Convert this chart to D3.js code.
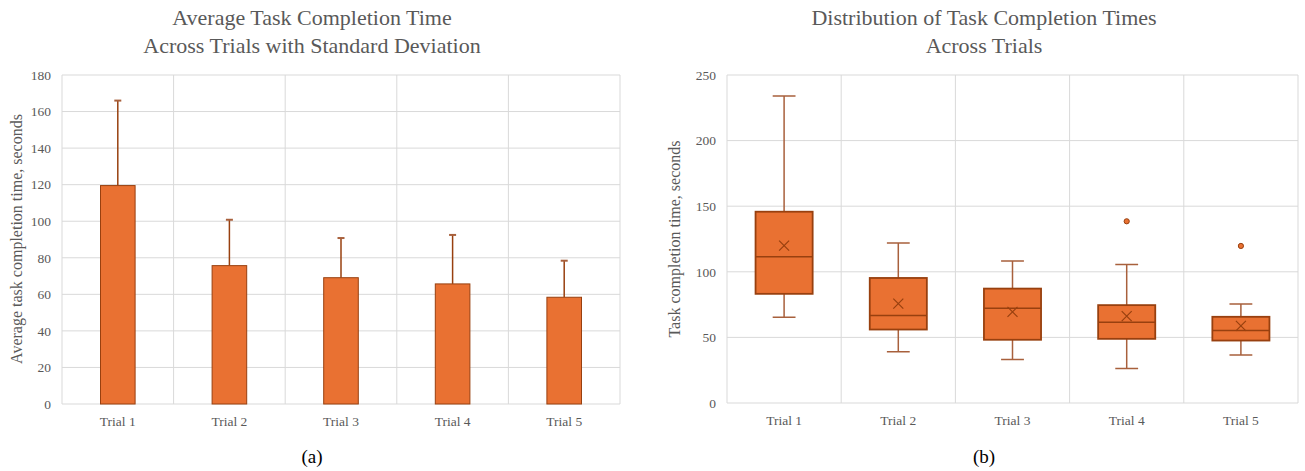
<!DOCTYPE html>
<html>
<head>
<meta charset="utf-8">
<script src="https://cdn.jsdelivr.net/npm/d3@7"></script>
<style>
  body { margin: 0; background: #fff; }
  text { font-family: "Liberation Serif", "Times New Roman", serif; }
</style>
</head>
<body>
<div id="chart"></div>
<script>
const trials = ['Trial 1', 'Trial 2', 'Trial 3', 'Trial 4', 'Trial 5'];

// panel (a): mean and standard deviation
const means = [119.5, 75.7, 69.1, 65.7, 58.4];
const sds = [46.5, 25.1, 21.7, 26.8, 20.0];
const barTicks = [0, 20, 40, 60, 80, 100, 120, 140, 160, 180];

// panel (b): box plot stats
const whiskerLow = [65.4, 39.0, 33.2, 26.3, 36.5];
const q1 = [83.2, 56.0, 48.2, 48.9, 47.6];
const medians = [111.5, 66.7, 72.3, 61.6, 55.3];
const q3 = [145.8, 95.3, 87.2, 74.6, 65.7];
const whiskerHigh = [234.0, 122.0, 108.3, 105.5, 75.5];
const boxMeans = [119.9, 75.8, 69.5, 66.2, 58.8];
const outliers = [[], [], [], [138.5], [119.7]];
const boxTicks = [0, 50, 100, 150, 200, 250];

const W = 1305, H = 471;
const fill = '#e97132', edge = '#98400f', whiskerCol = '#a8603c';
const grid = '#d9d9d9', txt = '#595959';

const svg = d3.select('#chart')
  .append('svg')
  .attr('width', W)
  .attr('height', H);

function frame(left, right, top, bottom, maxV, ticks) {
  const x = d3.scaleBand().domain(trials).range([left, right]).padding(0);
  const y = d3.scaleLinear().domain([0, maxV]).range([bottom, top]);
  const g = svg.append('g');

  // horizontal grid
  g.selectAll('.hg')
    .data(ticks)
    .enter()
    .append('line')
    .attr('x1', left).attr('x2', right)
    .attr('y1', d => y(d)).attr('y2', d => y(d))
    .attr('stroke', grid).attr('stroke-width', 1);
  // vertical grid on category edges
  const edges = trials.map(t => x(t)).concat([right]);
  g.selectAll('.vg')
    .data(edges)
    .enter()
    .append('line')
    .attr('x1', d => d).attr('x2', d => d)
    .attr('y1', top).attr('y2', bottom)
    .attr('stroke', grid).attr('stroke-width', 1);

  // y tick labels
  g.selectAll('.yt')
    .data(ticks)
    .enter()
    .append('text')
    .attr('x', left - 11)
    .attr('y', d => y(d))
    .attr('dy', '0.35em')
    .attr('text-anchor', 'end')
    .attr('fill', txt)
    .style('font-size', '13.5px')
    .text(d => d);

  // x tick labels
  g.selectAll('.xt')
    .data(trials)
    .enter()
    .append('text')
    .attr('x', d => x(d) + x.bandwidth() / 2)
    .attr('y', bottom + 22)
    .attr('text-anchor', 'middle')
    .attr('fill', txt)
    .style('font-size', '13.5px')
    .text(d => d);

  return { x, y, g };
}

function titles(cx, lines, yLabel, yLabelX, midY, caption) {
  lines.forEach((l, i) => {
    svg.append('text')
      .attr('x', cx)
      .attr('y', 25 + i * 28)
      .attr('text-anchor', 'middle')
      .attr('fill', txt)
      .style('font-size', '22px')
      .text(l);
  });
  svg.append('text')
    .attr('transform', `translate(${yLabelX}, ${midY}) rotate(-90)`)
    .attr('text-anchor', 'middle')
    .attr('fill', txt)
    .style('font-size', '16px')
    .text(yLabel);
  svg.append('text')
    .attr('x', cx)
    .attr('y', 463)
    .attr('text-anchor', 'middle')
    .attr('fill', '#000')
    .style('font-size', '19px')
    .text(caption);
}

// ---- (a) bar chart with SD
const A = frame(62, 620, 75, 404, 180, barTicks);
titles(312, ['Average Task Completion Time', 'Across Trials with Standard Deviation'],
  'Average task completion time, seconds', 22, 239, '(a)');

const barW = A.x.bandwidth() * 0.31;
// error bars
A.g.selectAll('.err')
  .data(trials)
  .enter()
  .append('line')
  .attr('x1', d => A.x(d) + A.x.bandwidth() / 2)
  .attr('x2', d => A.x(d) + A.x.bandwidth() / 2)
  .attr('y1', (d, i) => A.y(means[i]))
  .attr('y2', (d, i) => A.y(means[i] + sds[i]))
  .attr('stroke', edge).attr('stroke-width', 1.5);
A.g.selectAll('.cap')
  .data(trials)
  .enter()
  .append('line')
  .attr('x1', d => A.x(d) + A.x.bandwidth() / 2 - 3.5)
  .attr('x2', d => A.x(d) + A.x.bandwidth() / 2 + 3.5)
  .attr('y1', (d, i) => A.y(means[i] + sds[i]))
  .attr('y2', (d, i) => A.y(means[i] + sds[i]))
  .attr('stroke', whiskerCol).attr('stroke-width', 2);
A.g.selectAll('.bar')
  .data(trials)
  .enter()
  .append('rect')
  .attr('x', d => A.x(d) + (A.x.bandwidth() - barW) / 2)
  .attr('y', (d, i) => A.y(means[i]))
  .attr('width', barW)
  .attr('height', (d, i) => A.y(0) - A.y(means[i]))
  .attr('fill', fill)
  .attr('stroke', edge).attr('stroke-width', 1);

// ---- (b) box plot
const B = frame(727, 1298, 75, 403, 250, boxTicks);
titles(984, ['Distribution of Task Completion Times', 'Across Trials'],
  'Task completion time, seconds', 680, 239, '(b)');

const boxW = B.x.bandwidth() * 0.5;
const capW = boxW * 0.4;
const cx = d => B.x(d) + B.x.bandwidth() / 2;

// whiskers
B.g.selectAll('.wl')
  .data(trials)
  .enter()
  .append('path')
  .attr('d', (d, i) => `M${cx(d)},${B.y(whiskerLow[i])}V${B.y(q1[i])}` +
    `M${cx(d)},${B.y(q3[i])}V${B.y(whiskerHigh[i])}` +
    `M${cx(d) - capW / 2},${B.y(whiskerLow[i])}H${cx(d) + capW / 2}` +
    `M${cx(d) - capW / 2},${B.y(whiskerHigh[i])}H${cx(d) + capW / 2}`)
  .attr('fill', 'none')
  .attr('stroke', whiskerCol).attr('stroke-width', 1.5);
// boxes
B.g.selectAll('.box')
  .data(trials)
  .enter()
  .append('rect')
  .attr('x', d => cx(d) - boxW / 2)
  .attr('y', (d, i) => B.y(q3[i]))
  .attr('width', boxW)
  .attr('height', (d, i) => B.y(q1[i]) - B.y(q3[i]))
  .attr('fill', fill)
  .attr('stroke', edge).attr('stroke-width', 1.8);
// medians
B.g.selectAll('.med')
  .data(trials)
  .enter()
  .append('line')
  .attr('x1', d => cx(d) - boxW / 2)
  .attr('x2', d => cx(d) + boxW / 2)
  .attr('y1', (d, i) => B.y(medians[i]))
  .attr('y2', (d, i) => B.y(medians[i]))
  .attr('stroke', edge).attr('stroke-width', 1.5);
// mean markers
B.g.selectAll('.mean')
  .data(trials)
  .enter()
  .append('path')
  .attr('d', (d, i) => {
    const mx = cx(d), my = B.y(boxMeans[i]), s = 5;
    return `M${mx - s},${my - s}L${mx + s},${my + s}M${mx - s},${my + s}L${mx + s},${my - s}`;
  })
  .attr('stroke', edge).attr('stroke-width', 1.2);
// outliers
const outPts = [];
outliers.forEach((arr, i) => arr.forEach(v => outPts.push({ t: trials[i], v })));
B.g.selectAll('.out')
  .data(outPts)
  .enter()
  .append('circle')
  .attr('cx', d => cx(d.t))
  .attr('cy', d => B.y(d.v))
  .attr('r', 2.6)
  .attr('fill', fill)
  .attr('stroke', edge).attr('stroke-width', 1);
</script>
</body>
</html>
